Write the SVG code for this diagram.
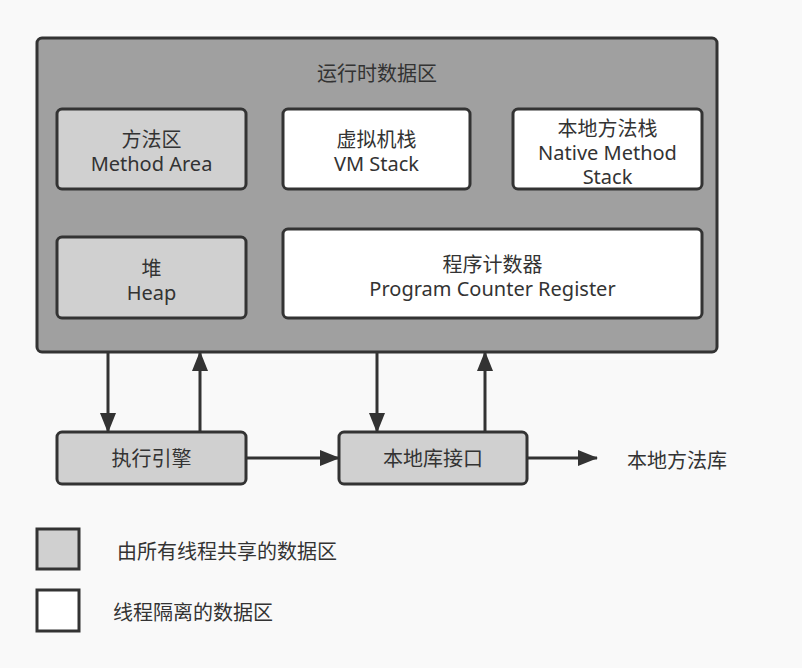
<svg xmlns="http://www.w3.org/2000/svg" width="802" height="668" viewBox="0 0 802 668">
<defs>
<marker id="ah" viewBox="0 0 20 16" refX="19" refY="8" markerWidth="20" markerHeight="16" markerUnits="userSpaceOnUse" orient="auto">
<path d="M0,0 L20,8 L0,16 Z" fill="#333"/>
</marker>
<style>
text{font-family:"Noto Sans","Noto Sans CJK SC",sans-serif;font-size:20px;fill:#333;text-anchor:middle}
.box{stroke:#333;stroke-width:3}
.shared{fill:#d0d0d0}
.priv{fill:#fff}
.con{stroke:#333;stroke-width:3;fill:none;marker-end:url(#ah)}
</style>
</defs>
<rect width="802" height="668" fill="#f9f9f9"/>
<g id="runtime">
<rect x="37" y="38" width="680" height="314" rx="5" fill="#a0a0a0" class="box"/>
<text x="377" y="81">运行时数据区</text>
</g>
<g id="method-area">
<rect class="box shared" x="57" y="109" width="189" height="80" rx="5"/>
<text x="151.500" y="147">方法区</text>
<text x="151.500" y="171">Method Area</text>
</g>
<g id="vm-stack">
<rect class="box priv" x="283" y="109" width="187" height="80" rx="5"/>
<text x="376.500" y="147">虚拟机栈</text>
<text x="376.500" y="171">VM Stack</text>
</g>
<g id="native-stack">
<rect class="box priv" x="513" y="109" width="189" height="80" rx="5"/>
<text x="607.500" y="136">本地方法栈</text>
<text x="607.500" y="160">Native Method</text>
<text x="607.500" y="184">Stack</text>
</g>
<g id="heap">
<rect class="box shared" x="57" y="237" width="189" height="81" rx="5"/>
<text x="151.500" y="276">堆</text>
<text x="151.500" y="300">Heap</text>
</g>
<g id="pc">
<rect class="box priv" x="283" y="229" width="419" height="89" rx="5"/>
<text x="492.500" y="272">程序计数器</text>
<text x="492.500" y="296">Program Counter Register</text>
</g>
<g id="engine">
<rect class="box shared" x="57" y="432" width="189" height="52" rx="5"/>
<text x="151.500" y="466">执行引擎</text>
</g>
<g id="native-if">
<rect class="box shared" x="339" y="432" width="188" height="52" rx="5"/>
<text x="433" y="466">本地库接口</text>
</g>
<g id="native-lib">
<text x="677" y="468">本地方法库</text>
</g>
<g id="connectors">
<line class="con" x1="108" y1="352" x2="108" y2="432"/>
<line class="con" x1="200" y1="432" x2="200" y2="352"/>
<line class="con" x1="377" y1="352" x2="377" y2="432"/>
<line class="con" x1="485" y1="432" x2="485" y2="352"/>
<line class="con" x1="246" y1="458" x2="339" y2="458"/>
<line class="con" x1="527" y1="458" x2="597" y2="458"/>
</g>
<g id="legend-shared">
<rect class="box shared" x="37" y="529" width="42" height="40"/>
<text x="227" y="559">由所有线程共享的数据区</text>
</g>
<g id="legend-private">
<rect class="box priv" x="37" y="590" width="42" height="41"/>
<text x="193" y="620">线程隔离的数据区</text>
</g>
</svg>
